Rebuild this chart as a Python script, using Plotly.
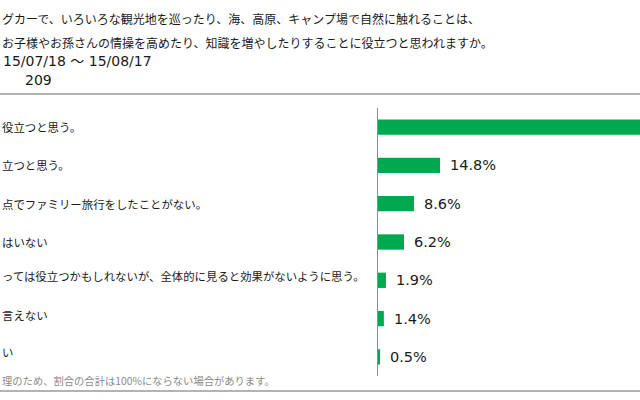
import plotly.graph_objects as go

# ---- data ----
categories = [
    "とても役立つと思う。",
    "やや役立つと思う。",
    "現時点でファミリー旅行をしたことがない。",
    "役立ってはいない",
    "場合によっては役立つかもしれないが、全体的に見ると効果がないように思う。",
    "どちらとも言えない",
    "わからない",
]
# visible (cropped) parts of the category labels
visible_labels = [
    "役立つと思う。",
    "立つと思う。",
    "点でファミリー旅行をしたことがない。",
    "はいない",
    "っては役立つかもしれないが、全体的に見ると効果がないように思う。",
    "言えない",
    "い",
]
values = [66.6, 14.8, 8.6, 6.2, 1.9, 1.4, 0.5]
value_labels = ["66.6%", "14.8%", "8.6%", "6.2%", "1.9%", "1.4%", "0.5%"]

title_lines = [
    "グカーで、いろいろな観光地を巡ったり、海、高原、キャンプ場で自然に触れることは、",
    "お子様やお孫さんの情操を高めたり、知識を増やしたりすることに役立つと思われますか。",
]
period_text = "15/07/18 ～ 15/08/17"
count_text = "209"
footnote = "理のため、割合の合計は100%にならない場合があります。"

W, H = 640, 400
L, R, T, B = 378, 0, 108, 24
PW, PH = W - L - R, H - T - B
XMAX = 62.5

def px(x):
    return (x - L) / PW

def py(y):
    return (H - B - y) / PH

JP = "Noto Sans CJK JP"
NUM = "DejaVu Sans, Noto Sans CJK JP"
GREEN = "#00A94F"
TXT = "#1a1a1a"

fig = go.Figure()
fig.add_trace(go.Bar(
    x=values, y=categories, orientation="h",
    marker=dict(color=GREEN, line=dict(width=0)),
    cliponaxis=True, hoverinfo="skip",
))

annotations = []
# title lines
for txt, (x0, y0) in zip(title_lines, [(0, 18), (0, 42)]):
    annotations.append(dict(
        x=px(x0), y=py(y0), xref="paper", yref="paper", text=txt,
        xanchor="left", yanchor="middle", showarrow=False,
        font=dict(family=JP, size=12, color=TXT)))
for txt, (x0, y0) in zip([period_text, count_text], [(1, 61), (23, 80)]):
    annotations.append(dict(
        x=px(x0), y=py(y0), xref="paper", yref="paper", text=txt,
        xanchor="left", yanchor="middle", showarrow=False,
        font=dict(family=NUM, size=14, color=TXT)))

# category labels (left-aligned, cropped at the left edge)
label_dy = [0, 0, 0, 0, -4, -4, -5]
for i, txt in enumerate(visible_labels):
    annotations.append(dict(
        x=px(0), y=categories[i], xref="paper", yref="y", text=txt,
        xanchor="left", yanchor="middle", showarrow=False, yshift=-label_dy[i],
        font=dict(family=JP, size=11.4, color=TXT)))

# value labels (only those inside the visible range)
for cat, v, lab in zip(categories, values, value_labels):
    if v < XMAX * 0.8:
        annotations.append(dict(
            x=v, y=cat, xref="x", yref="y", text=lab,
            xanchor="left", yanchor="middle", showarrow=False, xshift=8,
            font=dict(family=NUM, size=14.5, color=TXT)))

annotations.append(dict(
    x=px(0), y=py(381), xref="paper", yref="paper", text=footnote,
    xanchor="left", yanchor="middle", showarrow=False,
    font=dict(family=JP, size=10.3, color="#8a8a8a")))

shapes = [
    dict(type="line", xref="paper", yref="paper", x0=px(0), x1=px(W),
         y0=py(94), y1=py(94), line=dict(color="#9a9a9a", width=1.5)),
    dict(type="line", xref="paper", yref="paper", x0=px(0), x1=px(W),
         y0=py(391), y1=py(391), line=dict(color="#9a9a9a", width=1.5)),
]

fig.update_layout(
    width=W, height=H,
    margin=dict(l=L, r=R, t=T, b=B, pad=0),
    paper_bgcolor="white", plot_bgcolor="white",
    showlegend=False, bargap=0.6,
    annotations=annotations, shapes=shapes,
    xaxis=dict(range=[0, XMAX], showgrid=False, zeroline=False,
               showticklabels=False, ticks="", fixedrange=True),
    yaxis=dict(autorange="reversed", showticklabels=False, ticks="",
               showgrid=False, zeroline=False, showline=True,
               linecolor="#8c8c8c", linewidth=1, fixedrange=True),
)

fig.write_html("out.html", config={"displayModeBar": False})
